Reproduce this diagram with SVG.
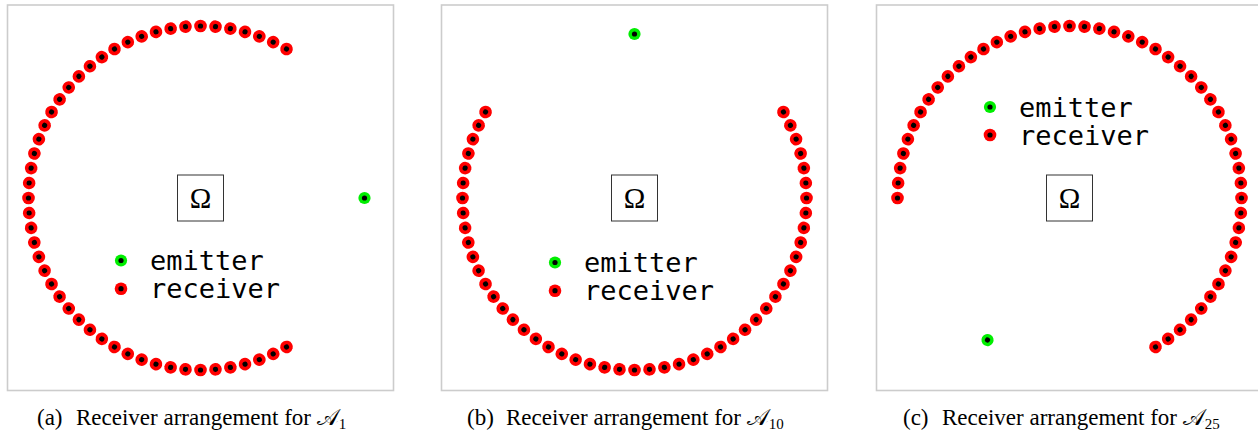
<svg xmlns="http://www.w3.org/2000/svg" xmlns:xlink="http://www.w3.org/1999/xlink" width="1258" height="439" viewBox="0 0 1258 439">
<style>
.frame{fill:#fff;stroke:#cccccc;stroke-width:1.6}
.obox{fill:none;stroke:#333;stroke-width:1}
.omega{font-family:"Liberation Serif","DejaVu Serif",serif;font-size:29px;fill:#000}
.leg{font-family:"DejaVu Sans Mono",monospace;font-size:27px;fill:#000}
.cap{font-family:"Liberation Serif",serif;font-size:23px;fill:#000}
.sub{font-size:15px}
</style>
<defs>
<g id="rcv"><circle cx="172" cy="0" r="6.3" fill="#ff0000"/><circle cx="172" cy="0" r="2.6" fill="#000"/></g>
<g id="emi"><circle cx="164" cy="0" r="6.1" fill="#00ee00"/><circle cx="164" cy="0" r="2.6" fill="#000"/></g>
<g id="ldot-e"><circle r="6.1" fill="#00ee00"/><circle r="2.6" fill="#000"/></g>
<g id="ldot-r"><circle r="6.3" fill="#ff0000"/><circle r="2.6" fill="#000"/></g>
</defs>
<rect width="1258" height="439" fill="#fff"/>

<!-- Panel (a) -->
<g id="panel-a">
<rect class="frame" x="7.5" y="5" width="386" height="385.5"/>
<g id="receivers-a" transform="translate(200.5,198)">
<use href="#rcv" transform="rotate(-60)"/><use href="#rcv" transform="rotate(-65)"/><use href="#rcv" transform="rotate(-70)"/><use href="#rcv" transform="rotate(-75)"/><use href="#rcv" transform="rotate(-80)"/><use href="#rcv" transform="rotate(-85)"/><use href="#rcv" transform="rotate(-90)"/><use href="#rcv" transform="rotate(-95)"/><use href="#rcv" transform="rotate(-100)"/><use href="#rcv" transform="rotate(-105)"/><use href="#rcv" transform="rotate(-110)"/><use href="#rcv" transform="rotate(-115)"/><use href="#rcv" transform="rotate(-120)"/><use href="#rcv" transform="rotate(-125)"/><use href="#rcv" transform="rotate(-130)"/><use href="#rcv" transform="rotate(-135)"/><use href="#rcv" transform="rotate(-140)"/><use href="#rcv" transform="rotate(-145)"/><use href="#rcv" transform="rotate(-150)"/><use href="#rcv" transform="rotate(-155)"/><use href="#rcv" transform="rotate(-160)"/><use href="#rcv" transform="rotate(-165)"/><use href="#rcv" transform="rotate(-170)"/><use href="#rcv" transform="rotate(-175)"/><use href="#rcv" transform="rotate(-180)"/><use href="#rcv" transform="rotate(-185)"/><use href="#rcv" transform="rotate(-190)"/><use href="#rcv" transform="rotate(-195)"/><use href="#rcv" transform="rotate(-200)"/><use href="#rcv" transform="rotate(-205)"/><use href="#rcv" transform="rotate(-210)"/><use href="#rcv" transform="rotate(-215)"/><use href="#rcv" transform="rotate(-220)"/><use href="#rcv" transform="rotate(-225)"/><use href="#rcv" transform="rotate(-230)"/><use href="#rcv" transform="rotate(-235)"/><use href="#rcv" transform="rotate(-240)"/><use href="#rcv" transform="rotate(-245)"/><use href="#rcv" transform="rotate(-250)"/><use href="#rcv" transform="rotate(-255)"/><use href="#rcv" transform="rotate(-260)"/><use href="#rcv" transform="rotate(-265)"/><use href="#rcv" transform="rotate(-270)"/><use href="#rcv" transform="rotate(-275)"/><use href="#rcv" transform="rotate(-280)"/><use href="#rcv" transform="rotate(-285)"/><use href="#rcv" transform="rotate(-290)"/><use href="#rcv" transform="rotate(-295)"/><use href="#rcv" transform="rotate(-300)"/>
</g>
<g id="emitter-a" transform="translate(200.5,198)"><use href="#emi"/></g>
<g id="omega-a"><rect class="obox" x="177.5" y="175" width="46" height="46"/><text class="omega" x="200.5" y="208" text-anchor="middle">Ω</text></g>
<g id="legend-a">
<use href="#ldot-e" x="121" y="260.5"/><text class="leg" x="150" y="270">emitter</text>
<use href="#ldot-r" x="121" y="288.7"/><text class="leg" x="150" y="298">receiver</text>
</g>
<text class="cap" x="37" y="425">(a)<tspan x="76">Receiver arrangement for 𝒜</tspan><tspan class="sub" dy="4">1</tspan></text>
</g>

<!-- Panel (b) -->
<g id="panel-b">
<rect class="frame" x="441.5" y="5" width="386" height="385.5"/>
<g id="receivers-b" transform="translate(634.5,198)">
<use href="#rcv" transform="rotate(-150)"/><use href="#rcv" transform="rotate(-155)"/><use href="#rcv" transform="rotate(-160)"/><use href="#rcv" transform="rotate(-165)"/><use href="#rcv" transform="rotate(-170)"/><use href="#rcv" transform="rotate(-175)"/><use href="#rcv" transform="rotate(-180)"/><use href="#rcv" transform="rotate(-185)"/><use href="#rcv" transform="rotate(-190)"/><use href="#rcv" transform="rotate(-195)"/><use href="#rcv" transform="rotate(-200)"/><use href="#rcv" transform="rotate(-205)"/><use href="#rcv" transform="rotate(-210)"/><use href="#rcv" transform="rotate(-215)"/><use href="#rcv" transform="rotate(-220)"/><use href="#rcv" transform="rotate(-225)"/><use href="#rcv" transform="rotate(-230)"/><use href="#rcv" transform="rotate(-235)"/><use href="#rcv" transform="rotate(-240)"/><use href="#rcv" transform="rotate(-245)"/><use href="#rcv" transform="rotate(-250)"/><use href="#rcv" transform="rotate(-255)"/><use href="#rcv" transform="rotate(-260)"/><use href="#rcv" transform="rotate(-265)"/><use href="#rcv" transform="rotate(-270)"/><use href="#rcv" transform="rotate(-275)"/><use href="#rcv" transform="rotate(-280)"/><use href="#rcv" transform="rotate(-285)"/><use href="#rcv" transform="rotate(-290)"/><use href="#rcv" transform="rotate(-295)"/><use href="#rcv" transform="rotate(-300)"/><use href="#rcv" transform="rotate(-305)"/><use href="#rcv" transform="rotate(-310)"/><use href="#rcv" transform="rotate(-315)"/><use href="#rcv" transform="rotate(-320)"/><use href="#rcv" transform="rotate(-325)"/><use href="#rcv" transform="rotate(-330)"/><use href="#rcv" transform="rotate(-335)"/><use href="#rcv" transform="rotate(-340)"/><use href="#rcv" transform="rotate(-345)"/><use href="#rcv" transform="rotate(-350)"/><use href="#rcv" transform="rotate(-355)"/><use href="#rcv" transform="rotate(-360)"/><use href="#rcv" transform="rotate(-365)"/><use href="#rcv" transform="rotate(-370)"/><use href="#rcv" transform="rotate(-375)"/><use href="#rcv" transform="rotate(-380)"/><use href="#rcv" transform="rotate(-385)"/><use href="#rcv" transform="rotate(-390)"/>
</g>
<g id="emitter-b" transform="translate(634.5,198) rotate(-90)"><use href="#emi"/></g>
<g id="omega-b"><rect class="obox" x="611.5" y="175" width="46" height="46"/><text class="omega" x="634.5" y="208" text-anchor="middle">Ω</text></g>
<g id="legend-b">
<use href="#ldot-e" x="555" y="262.5"/><text class="leg" x="584" y="272">emitter</text>
<use href="#ldot-r" x="555" y="290.7"/><text class="leg" x="584" y="300">receiver</text>
</g>
<text class="cap" x="467" y="425">(b)<tspan x="506">Receiver arrangement for 𝒜</tspan><tspan class="sub" dy="4">10</tspan></text>
</g>

<!-- Panel (c) -->
<g id="panel-c">
<rect class="frame" x="876.5" y="5" width="386" height="385.5"/>
<g id="receivers-c" transform="translate(1069.5,198)">
<use href="#rcv" transform="rotate(-300)"/><use href="#rcv" transform="rotate(-305)"/><use href="#rcv" transform="rotate(-310)"/><use href="#rcv" transform="rotate(-315)"/><use href="#rcv" transform="rotate(-320)"/><use href="#rcv" transform="rotate(-325)"/><use href="#rcv" transform="rotate(-330)"/><use href="#rcv" transform="rotate(-335)"/><use href="#rcv" transform="rotate(-340)"/><use href="#rcv" transform="rotate(-345)"/><use href="#rcv" transform="rotate(-350)"/><use href="#rcv" transform="rotate(-355)"/><use href="#rcv" transform="rotate(-360)"/><use href="#rcv" transform="rotate(-365)"/><use href="#rcv" transform="rotate(-370)"/><use href="#rcv" transform="rotate(-375)"/><use href="#rcv" transform="rotate(-380)"/><use href="#rcv" transform="rotate(-385)"/><use href="#rcv" transform="rotate(-390)"/><use href="#rcv" transform="rotate(-395)"/><use href="#rcv" transform="rotate(-400)"/><use href="#rcv" transform="rotate(-405)"/><use href="#rcv" transform="rotate(-410)"/><use href="#rcv" transform="rotate(-415)"/><use href="#rcv" transform="rotate(-420)"/><use href="#rcv" transform="rotate(-425)"/><use href="#rcv" transform="rotate(-430)"/><use href="#rcv" transform="rotate(-435)"/><use href="#rcv" transform="rotate(-440)"/><use href="#rcv" transform="rotate(-445)"/><use href="#rcv" transform="rotate(-450)"/><use href="#rcv" transform="rotate(-455)"/><use href="#rcv" transform="rotate(-460)"/><use href="#rcv" transform="rotate(-465)"/><use href="#rcv" transform="rotate(-470)"/><use href="#rcv" transform="rotate(-475)"/><use href="#rcv" transform="rotate(-480)"/><use href="#rcv" transform="rotate(-485)"/><use href="#rcv" transform="rotate(-490)"/><use href="#rcv" transform="rotate(-495)"/><use href="#rcv" transform="rotate(-500)"/><use href="#rcv" transform="rotate(-505)"/><use href="#rcv" transform="rotate(-510)"/><use href="#rcv" transform="rotate(-515)"/><use href="#rcv" transform="rotate(-520)"/><use href="#rcv" transform="rotate(-525)"/><use href="#rcv" transform="rotate(-530)"/><use href="#rcv" transform="rotate(-535)"/><use href="#rcv" transform="rotate(-540)"/>
</g>
<g id="emitter-c" transform="translate(1069.5,198) rotate(-240)"><use href="#emi"/></g>
<g id="omega-c"><rect class="obox" x="1046.5" y="175" width="46" height="46"/><text class="omega" x="1069.5" y="208" text-anchor="middle">Ω</text></g>
<g id="legend-c">
<use href="#ldot-e" x="990" y="107"/><text class="leg" x="1019" y="116.5">emitter</text>
<use href="#ldot-r" x="990" y="135"/><text class="leg" x="1019" y="144.5">receiver</text>
</g>
<text class="cap" x="903" y="425">(c)<tspan x="942">Receiver arrangement for 𝒜</tspan><tspan class="sub" dy="4">25</tspan></text>
</g>
</svg>
